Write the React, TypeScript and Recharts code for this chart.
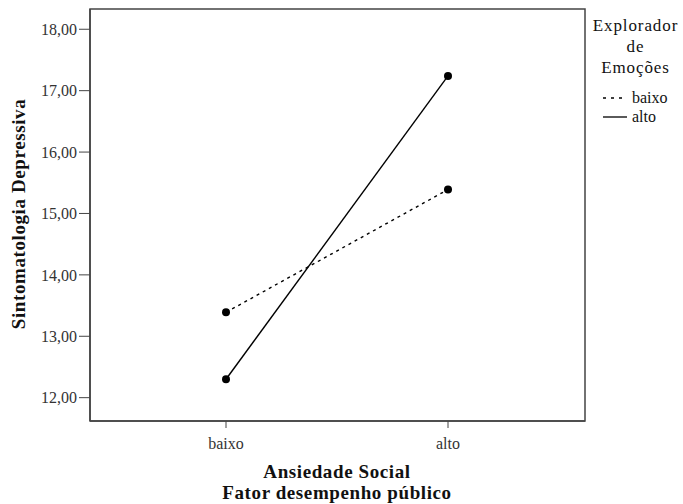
import React from 'react';
import { LineChart, Line, XAxis, YAxis, ReferenceArea } from 'recharts';

const categories = ['baixo', 'alto'];
const serieBaixo = [13.39, 15.39];
const serieAlto = [12.3, 17.24];
const yTicks = [12, 13, 14, 15, 16, 17, 18];
const legendTitle = ['Explorador', 'de', 'Emoções'];
const legendItems = [
  { key: 'baixo', label: 'baixo', dash: '3 5' },
  { key: 'alto', label: 'alto', dash: '' },
];

const data = categories.map((c, i) => ({ cat: c, baixo: serieBaixo[i], alto: serieAlto[i] }));

const FONT = '"Liberation Serif", "Times New Roman", serif';
const Y_MIN = 11.62;
const Y_MAX = 18.33;

const fmt = (v: number) => v.toFixed(2).replace('.', ',');

const LegendBox = () => (
  <div style={{ position: 'absolute', left: 588, top: 15, width: 95, fontFamily: FONT, color: '#111' }}>
    {legendTitle.map((t) => (
      <div key={t} style={{ textAlign: 'center', fontSize: 17, lineHeight: '21px', letterSpacing: 0.9 }}>{t}</div>
    ))}
    <div style={{ height: 10 }} />
    {legendItems.map((it) => (
      <div key={it.key} style={{ display: 'flex', alignItems: 'center', height: 19, fontSize: 16, marginLeft: 14 }}>
        <svg width={27} height={10} style={{ marginRight: 3 }}>
          <line x1={1} y1={5} x2={25} y2={5} stroke="#000" strokeWidth={1.3} strokeDasharray={it.dash || undefined} />
        </svg>
        <span>{it.label}</span>
      </div>
    ))}
  </div>
);

export default function App() {
  return (
    <div style={{ position: 'absolute', left: 0, top: 0, width: 683, height: 504, background: '#fff', fontFamily: FONT }}>
      <LineChart width={683} height={504} data={data} margin={{ top: 9, right: 98, bottom: 48, left: 30 }}>
        <XAxis
          dataKey="cat"
          type="category"
          padding={{ left: 136, right: 137 }}
          tickSize={7}
          tickMargin={10}
          height={35}
          stroke="#444"
          tick={{ fill: '#333', fontSize: 16, fontFamily: FONT }}
          tickLine={{ stroke: '#444' }}
          axisLine={{ stroke: '#444', strokeWidth: 1.5 }}
        />
        <XAxis xAxisId="box" type="number" domain={[0, 1]} hide allowDataOverflow />
        <YAxis
          domain={[Y_MIN, Y_MAX]}
          ticks={yTicks}
          tickFormatter={fmt}
          allowDataOverflow
          width={60}
          tickSize={11}
          tickMargin={2}
          stroke="#444"
          tick={{ fill: '#333', fontSize: 16, fontFamily: FONT }}
          axisLine={{ stroke: '#444', strokeWidth: 1.5 }}
        />
        <ReferenceArea xAxisId="box" x1={0} x2={1} y1={Y_MIN} y2={Y_MAX} fill="none" fillOpacity={0} stroke="#444" strokeWidth={1.5} ifOverflow="visible" />
        <Line dataKey="baixo" stroke="#000" strokeWidth={1.4} strokeDasharray="3 4" dot={{ r: 4, fill: '#000', stroke: '#000', strokeWidth: 0 }} isAnimationActive={false} />
        <Line dataKey="alto" stroke="#000" strokeWidth={1.4} dot={{ r: 4, fill: '#000', stroke: '#000', strokeWidth: 0 }} isAnimationActive={false} />
        <text x={18} y={214} transform="rotate(-90 18 214)" textAnchor="middle" dominantBaseline="central" fontFamily={FONT} fontWeight="bold" fontSize={19} fill="#111" letterSpacing={0.6}>Sintomatologia Depressiva</text>
        <text x={337} y={478} textAnchor="middle" fontFamily={FONT} fontWeight="bold" fontSize={19} fill="#111" letterSpacing={0.6}>Ansiedade Social</text>
        <text x={337} y={499} textAnchor="middle" fontFamily={FONT} fontWeight="bold" fontSize={19} fill="#111" letterSpacing={0.6}>Fator desempenho público</text>
      </LineChart>
      <LegendBox />
    </div>
  );
}
